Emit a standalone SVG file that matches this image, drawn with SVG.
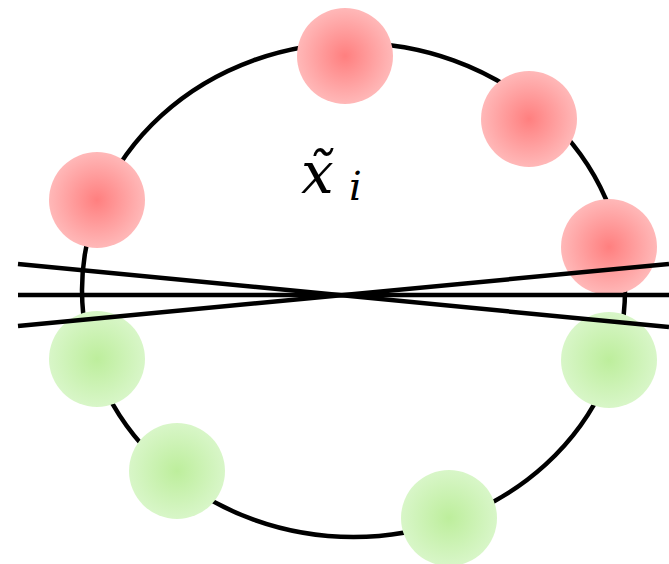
<svg xmlns="http://www.w3.org/2000/svg" width="669" height="564" viewBox="0 0 669 564">
<defs>
<radialGradient id="red"><stop offset="0" stop-color="#ff7f7f"/><stop offset="1" stop-color="#ffb8b8"/></radialGradient>
<radialGradient id="green"><stop offset="0" stop-color="#bdee9c"/><stop offset="1" stop-color="#d8f6c8"/></radialGradient>
<style>
.ring{fill:none;stroke:#000;stroke-width:4.5}
.r{fill:url(#red)}
.g{fill:url(#green)}
.ln{stroke:#000;stroke-width:4.5}
.lbl{font-family:"DejaVu Serif","Liberation Serif",serif;font-style:italic;fill:#000}
</style>
</defs>
<rect width="669" height="564" fill="#fff"/>
<ellipse id="ring" class="ring" cx="353.5" cy="290" rx="271.5" ry="247"/>
<g id="red-1"><circle class="r" cx="345" cy="56" r="48"/></g>
<g id="red-2"><circle class="r" cx="529" cy="119" r="48"/></g>
<g id="red-3"><circle class="r" cx="97" cy="200" r="48"/></g>
<g id="red-4"><circle class="r" cx="609" cy="247" r="48"/></g>
<g id="green-1"><circle class="g" cx="97" cy="359" r="48"/></g>
<g id="green-2"><circle class="g" cx="609" cy="360" r="48"/></g>
<g id="green-3"><circle class="g" cx="177" cy="471" r="48"/></g>
<g id="green-4"><circle class="g" cx="449" cy="518" r="48"/></g>
<g id="connectors">
<line class="ln" x1="18" y1="295" x2="669" y2="295"/>
<line class="ln" x1="18" y1="264" x2="669" y2="327"/>
<line class="ln" x1="18" y1="326" x2="669" y2="264"/>
</g>
<g id="label">
<text class="lbl" x="301" y="193" font-size="58">x̃<tspan x="349" y="200" font-size="40">i</tspan></text>
</g>
</svg>
